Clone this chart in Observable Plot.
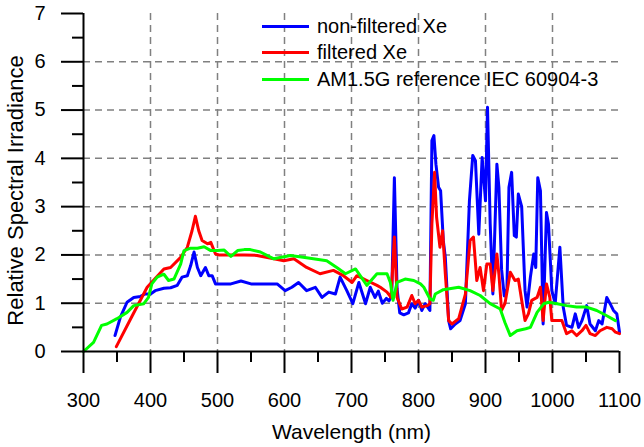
<!DOCTYPE html>
<html>
<head>
<meta charset="utf-8">
<script src="https://cdn.jsdelivr.net/npm/d3@7"></script>
<script src="https://cdn.jsdelivr.net/npm/@observablehq/plot@0.6"></script>
<style>
  html, body { margin: 0; padding: 0; background: white; }
  #wrap { position: relative; width: 644px; height: 447px; font-family: "Liberation Sans", Arial, sans-serif; }
  #wrap svg { display: block; }
  #legend { position: absolute; left: 262px; top: 13px; font-size: 20px; color: black; }
  .row { display: flex; align-items: center; height: 26.5px; }
  .sw { width: 47px; height: 3px; margin-right: 8px; }
</style>
</head>
<body>
<div id="wrap"></div>
<script>
const xTicks = [300, 400, 500, 600, 700, 800, 900, 1000, 1100];
const xMinor = [350, 450, 550, 650, 750, 850, 950, 1050];
const xGrid = [400, 500, 600, 700, 800, 900, 1000];
const yTicks = [0, 1, 2, 3, 4, 5, 6, 7];
const yMinor = [0.5, 1.5, 2.5, 3.5, 4.5, 5.5, 6.5];
const yGrid = [1, 2, 3, 4, 5, 6];

const seriesNames = ["non-filtered Xe", "filtered Xe", "AM1.5G reference IEC 60904-3"];
const seriesColors = ["#0000ff", "#ff0000", "#00ff00"];

const nonFilteredNm = [347,355,365,375,385,392,400,407,420,430,440,447,455,460,465,470,475,482,487,492,497,505,520,535,550,564,589,601,611,621,633,646,656,666,676,683,693,702,711,721,728,735,740,746,752,756,760,764,768,772,778,785,790,795,800,805,810,817,820,823,826,830,833,837,840,845,848,855,862,870,876,881,885,890,895,900,903,907,911,917,920,924,928,932,935,939,943,946,949,954,959,962,967,972,975,978,982,986,991,994,999,1004,1011,1016,1021,1029,1034,1039,1044,1051,1056,1064,1069,1074,1081,1086,1091,1096,1100];
const nonFilteredVal = [0.33,0.71,1.02,1.12,1.14,1.19,1.19,1.26,1.31,1.32,1.37,1.54,1.57,1.78,2.06,1.74,1.57,1.74,1.57,1.57,1.4,1.4,1.4,1.46,1.4,1.4,1.4,1.26,1.33,1.43,1.26,1.33,1.12,1.23,1.19,1.54,1.26,0.99,1.43,0.99,1.33,1.12,1.25,1.0,1.1,1.05,1.15,3.6,1.3,0.8,0.76,0.8,0.99,0.9,1.06,0.85,0.99,0.85,4.37,4.47,3.88,3.4,3.33,2.3,1.95,0.64,0.47,0.57,0.64,0.99,3.12,4.06,3.95,2.43,4.02,3.12,5.06,2.64,1.19,3.88,3.4,1.7,1.15,1.3,3.4,3.71,2.4,2.37,3.26,3.0,1.26,0.92,1.54,2.02,1.74,3.6,3.33,0.57,2.88,2.64,1.26,0.99,2.16,0.92,0.54,0.5,0.78,0.5,0.64,0.95,0.57,0.43,0.64,0.57,1.12,0.99,0.85,0.78,0.4];

const filteredNm = [349,372,395,420,430,445,455,462,467,472,477,485,490,497,502,540,559,584,599,614,633,653,673,688,701,708,723,738,743,753,759,764,768,775,783,790,795,800,805,813,817,820,824,827,832,836,840,845,850,860,870,877,882,887,892,897,902,907,911,917,920,924,929,937,944,949,954,959,964,969,977,982,986,991,996,999,1006,1014,1021,1029,1036,1044,1050,1056,1064,1071,1081,1089,1094,1100];
const filteredVal = [0.1,0.72,1.33,1.71,1.74,1.95,2.16,2.5,2.8,2.5,2.3,2.23,2.26,2.02,2.0,2.0,1.99,1.92,1.88,1.92,1.74,1.61,1.68,1.57,1.43,1.57,1.47,1.37,1.33,1.23,1.12,2.37,1.12,0.88,0.92,1.16,0.99,1.06,0.92,0.95,0.99,2.64,3.71,2.78,2.16,2.5,1.61,0.64,0.57,0.68,1.19,2.3,2.37,1.47,1.74,1.26,1.81,1.81,1.26,2.02,1.6,0.85,0.99,1.64,1.47,1.5,1.06,0.64,0.78,1.06,1.12,1.33,0.64,1.4,1.12,0.64,0.64,0.64,0.37,0.43,0.33,0.43,0.54,0.37,0.33,0.43,0.5,0.47,0.4,0.37];

const am15Nm = [300,315,327,335,350,365,375,390,397,402,410,420,427,435,445,450,460,470,480,490,500,510,520,530,540,549,564,584,609,633,663,678,691,706,723,738,753,758,762,768,780,793,803,808,817,822,825,837,860,877,892,907,922,929,937,947,960,967,977,987,994,1007,1021,1036,1051,1066,1081,1094];
const am15Val = [0,0.19,0.54,0.57,0.68,0.81,0.95,0.99,1.12,1.4,1.54,1.6,1.47,1.5,1.81,2.09,2.14,2.14,2.17,2.09,2.09,2.1,1.97,2.09,2.11,2.11,2.06,1.92,1.99,1.94,1.88,1.74,1.61,1.71,1.37,1.61,1.61,1.43,1.06,1.43,1.5,1.47,1.4,1.33,1.09,1.06,1.19,1.28,1.33,1.26,1.16,0.99,0.88,0.6,0.33,0.43,0.47,0.5,0.81,0.99,1.02,0.99,0.95,0.92,0.92,0.85,0.74,0.64];

const toRows = (xs, ys) => xs.map((x, i) => ({x, y: ys[i]}));
const series = [
  toRows(nonFilteredNm, nonFilteredVal),
  toRows(filteredNm, filteredVal),
  toRows(am15Nm, am15Val)
];

const chart = Plot.plot({
  width: 644,
  height: 447,
  marginLeft: 83,
  marginRight: 25,
  marginTop: 13,
  marginBottom: 96,
  style: {fontFamily: "Liberation Sans, Arial, sans-serif", fontSize: "20px", color: "black", background: "white"},
  x: {domain: [300, 1100]},
  y: {domain: [0, 7]},
  marks: [
    Plot.gridX({ticks: xGrid, stroke: "#808080", strokeOpacity: 1, strokeWidth: 1.5, strokeDasharray: "7,5"}),
    Plot.gridY({ticks: yGrid, stroke: "#808080", strokeOpacity: 1, strokeWidth: 1.5, strokeDasharray: "7,5"}),
    ...series.map((d, i) => Plot.line(d, {x: "x", y: "y", stroke: seriesColors[i], strokeWidth: 3, strokeLinejoin: "round"})),
    Plot.axisX({ticks: xTicks, tickSize: 22, tickPadding: 19, fontSize: 20, label: null, strokeWidth: 2, tickFormat: d => String(d)}),
    Plot.axisX({ticks: xMinor, tickSize: 11, text: null, label: null, strokeWidth: 2}),
    Plot.axisY({ticks: yTicks, tickSize: 22, tickPadding: 16, fontSize: 20, label: null, strokeWidth: 2, tickFormat: d => String(d)}),
    Plot.axisY({ticks: yMinor, tickSize: 11, text: null, label: null, strokeWidth: 2}),
    Plot.ruleX([300], {stroke: "black", strokeWidth: 2}),
    Plot.ruleY([0], {stroke: "black", strokeWidth: 2}),
    Plot.text(["Wavelength (nm)"], {frameAnchor: "bottom", dy: 87, fontSize: 21, fill: "black"}),
    Plot.text(["Relative Spectral Irradiance"], {frameAnchor: "left", textAnchor: "middle", lineAnchor: "middle", dx: -68, dy: 8, rotate: -90, fontSize: 22, fill: "black"})
  ]
});

const wrap = document.getElementById("wrap");
wrap.appendChild(chart);
const legend = document.createElement("div");
legend.id = "legend";
seriesNames.forEach((name, i) => {
  const row = document.createElement("div");
  row.className = "row";
  const sw = document.createElement("div");
  sw.className = "sw";
  sw.style.background = seriesColors[i];
  const t = document.createElement("span");
  t.textContent = name;
  row.appendChild(sw);
  row.appendChild(t);
  legend.appendChild(row);
});
wrap.appendChild(legend);
</script>
</body>
</html>
